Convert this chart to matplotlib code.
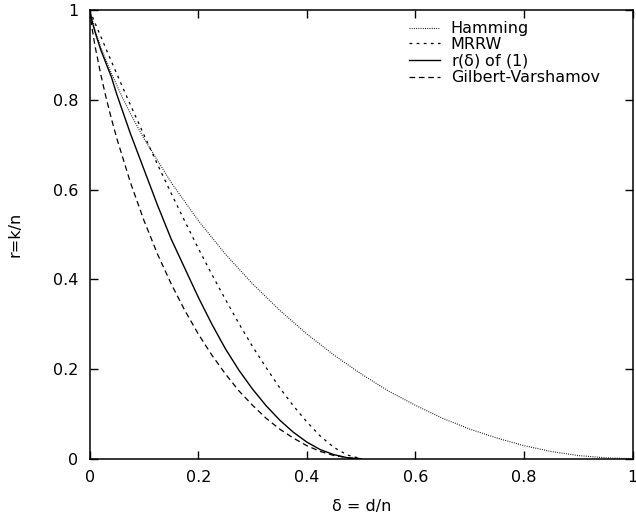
import numpy as np
import matplotlib
matplotlib.use("Agg")
import matplotlib.pyplot as plt

# delta grids and rates
delta_half = [0, .005, .01, .02, .03, .04, .05, .075, .1, .125, .15, .175, .2,
              .225, .25, .275, .3, .325, .35, .375, .4, .425, .45, .475, .5]
delta_full = [0, .01, .02, .04, .06, .08, .1, .15, .2, .25, .3, .35, .4,
              .45, .5, .55, .6, .65, .7, .75, .8, .85, .9, .95, 1.0]

hamming = [1, .955, .919, .859, .806, .758, .714, .616, .531, .456, .390, .331, .278,
           .231, .189, .151, .119, .090, .066, .046, .029, .016, .007, .002, 0]
mrrw = [1, .986, .971, .943, .914, .886, .858, .789, .722, .656, .592, .530, .469,
        .411, .355, .301, .250, .203, .158, .118, .082, .050, .025, .008, 0]
r_eq1 = [1, .973, .951, .913, .882, .851, .812, .725, .645, .565, .490, .425, .360,
         .300, .245, .197, .155, .118, .086, .059, .037, .020, .009, .002, 0]
gilbert_varshamov = [1, .955, .919, .859, .806, .758, .714, .616, .531, .456, .390, .331, .278,
                     .231, .189, .151, .119, .090, .066, .046, .029, .016, .007, .002, 0]

plt.rcParams['font.family'] = 'DejaVu Sans'
plt.rcParams['font.size'] = 11.5

fig = plt.figure(figsize=(6.36, 5.18), dpi=100)
ax = fig.add_axes([89.7 / 636, (518 - 458.7) / 518, (632.7 - 89.7) / 636, (458.7 - 10.3) / 518])

ax.plot(delta_full, hamming, color='black', lw=0.8, ls=(0, (0.8, 1.2)), label='Hamming')
ax.plot(delta_half, mrrw, color='black', lw=0.9, ls=(0, (2.2, 3.5)), label='MRRW')
ax.plot(delta_half, r_eq1, color='black', lw=1.0, ls='-', label=r'r($\mathregular{\delta}$) of (1)')
ax.plot(delta_half, gilbert_varshamov, color='black', lw=0.9, ls=(0, (4.5, 3)), label='Gilbert-Varshamov')

ax.set_xlim(0, 1)
ax.set_ylim(0, 1)
ax.set_xticks([0, 0.2, 0.4, 0.6, 0.8, 1])
ax.set_xticklabels(['0', '0.2', '0.4', '0.6', '0.8', '1'])
ax.set_yticks([0, 0.2, 0.4, 0.6, 0.8, 1])
ax.set_yticklabels(['0', '0.2', '0.4', '0.6', '0.8', '1'])
ax.tick_params(direction='in', length=6, width=1, top=True, right=True, pad=8)
for s in ax.spines.values():
    s.set_linewidth(1.1)

ax.set_xlabel('δ = d/n', labelpad=10)
ax.set_ylabel('r=k/n', labelpad=22)

ax.legend(loc='upper right', bbox_to_anchor=(0.96, 1.0), frameon=False,
          handlelength=1.9, handletextpad=0.7, labelspacing=0.02, borderpad=0.2)

fig.savefig('out.png', dpi=100)
